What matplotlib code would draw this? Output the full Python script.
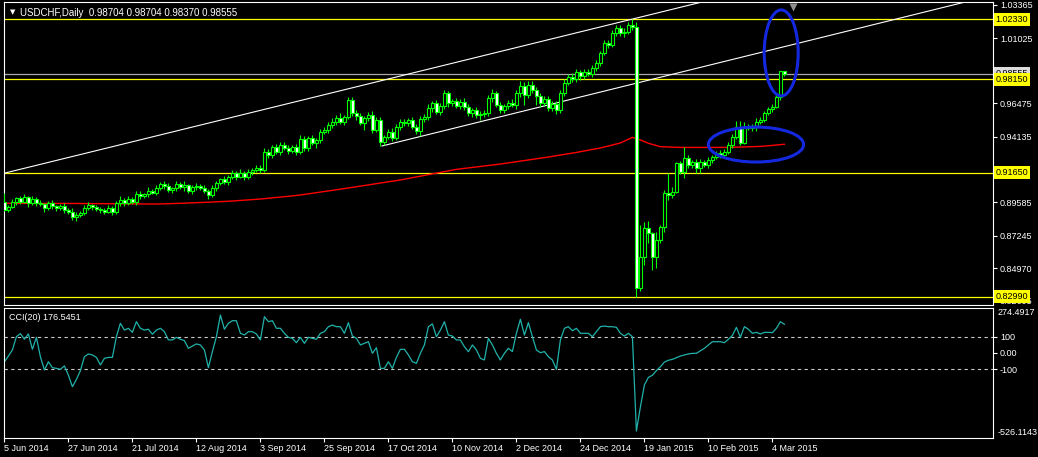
import matplotlib
matplotlib.use("Agg")
import matplotlib.pyplot as plt
import numpy as np
from matplotlib.patches import Ellipse

plt.rcParams['font.family'] = ['Liberation Sans', 'DejaVu Sans']

# USDCHF daily, 5 Jun 2014 .. 9 Mar 2015 (one value per bar)
closes = [
    0.8903, 0.8926, 0.8961, 0.8985, 0.8961, 0.8992, 0.8950, 0.8978, 0.8950, 0.8943,
    0.8915, 0.8950, 0.8931, 0.8915, 0.8931, 0.8903, 0.8892, 0.8853, 0.8869, 0.8885,
    0.8915, 0.8936, 0.8922, 0.8912, 0.8903, 0.8892, 0.8917, 0.8892, 0.8950, 0.8973,
    0.8954, 0.8978, 0.8959, 0.9015, 0.9001, 0.9015, 0.9038, 0.9024, 0.9055, 0.9085,
    0.9071, 0.9043, 0.9055, 0.9085, 0.9062, 0.9078, 0.9038, 0.9062, 0.9071, 0.9055,
    0.9038, 0.9008, 0.9055, 0.9090, 0.9118, 0.9101, 0.9132, 0.9160, 0.9136, 0.9164,
    0.9132, 0.9171, 0.9183, 0.9196, 0.9183, 0.9310, 0.9287, 0.9341, 0.9310, 0.9357,
    0.9334, 0.9317, 0.9345, 0.9310, 0.9397, 0.9334, 0.9404, 0.9373, 0.9392, 0.9450,
    0.9462, 0.9496, 0.9519, 0.9543, 0.9519, 0.9554, 0.9671, 0.9578, 0.9559, 0.9508,
    0.9543, 0.9566, 0.9462, 0.9531, 0.9380, 0.9415, 0.9450, 0.9404, 0.9485, 0.9519,
    0.9508, 0.9531, 0.9485, 0.9457, 0.9536, 0.9554, 0.9613, 0.9652, 0.9589, 0.9629,
    0.9717, 0.9648, 0.9666, 0.9629, 0.9659, 0.9624, 0.9578, 0.9601, 0.9566, 0.9573,
    0.9578, 0.9683, 0.9717, 0.9636, 0.9601, 0.9629, 0.9652, 0.9636, 0.9717, 0.9769,
    0.9706, 0.9776, 0.9741, 0.9699, 0.9648, 0.9676, 0.9613, 0.9643, 0.9601, 0.9717,
    0.9792, 0.9833, 0.9815, 0.9868, 0.9838, 0.9868, 0.9852, 0.9892, 0.9927, 1.0001,
    1.0066, 1.0054, 1.0140, 1.0171, 1.0136, 1.0148, 1.0194, 1.0178, 0.8357, 0.8578,
    0.8776, 0.8741, 0.8578, 0.8694, 0.8787, 0.9020, 0.9008, 0.9031, 0.9229, 0.9171,
    0.9264, 0.9217, 0.9240, 0.9194, 0.9240, 0.9217, 0.9252, 0.9271, 0.9299, 0.9287,
    0.9310, 0.9357, 0.9411, 0.9485, 0.9369, 0.9485, 0.9473, 0.9490, 0.9519, 0.9531,
    0.9578, 0.9606, 0.9624, 0.9694, 0.98704, 0.98555,
]
first_open = 0.8961

# wick lengths above / below the body, in pips
up_wick = [
    59, 15, 20, 12, 18, 25, 10, 22, 15, 20,
    12, 18, 25, 10, 15, 20, 12, 22, 18, 14,
    20, 25, 12, 18, 10, 15, 22, 14, 18, 25,
    12, 20, 15, 22, 18, 10, 25, 14, 20, 15,
    18, 22, 12, 20, 15, 25, 10, 18, 22, 14,
    20, 15, 25, 18, 12, 22, 15, 20, 18, 25,
    12, 20, 15, 22, 18, 25, 20, 15, 22, 23,
    18, 25, 15, 20, 30, 22, 18, 25, 15, 20,
    22, 18, 25, 20, 35, 15, 20, 18, 25, 22,
    15, 20, 25, 18, 22, 15, 20, 25, 18, 22,
    20, 15, 22, 18, 25, 20, 28, 15, 22, 18,
    25, 20, 15, 22, 18, 25, 20, 15, 22, 18,
    20, 25, 30, 18, 22, 15, 20, 25, 22, 35,
    30, 25, 28, 20, 18, 25, 22, 20, 18, 25,
    22, 18, 25, 20, 15, 22, 18, 25, 20, 15,
    22, 25, 18, 20, 25, 22, 20, 39, 37, 221,
    46, 53, 11, 58, 12, 20, 140, 35, 12, 18,
    81, 20, 15, 22, 18, 15, 20, 18, 15, 22,
    18, 20, 25, 42, 42, 35, 17, 14, 23, 20,
    15, 18, 20, 23, 5, 0,
]
dn_wick = [
    10, 15, 12, 20, 18, 10, 25, 15, 20, 12,
    23, 15, 20, 18, 12, 22, 15, 20, 25, 15,
    18, 12, 20, 15, 22, 18, 12, 20, 15, 18,
    20, 15, 12, 18, 22, 15, 20, 12, 18, 15,
    22, 15, 20, 18, 12, 25, 15, 20, 18, 12,
    18, 25, 15, 20, 12, 18, 22, 15, 20, 12,
    18, 15, 20, 12, 22, 15, 18, 20, 15, 22,
    15, 20, 18, 25, 15, 22, 18, 15, 35, 20,
    15, 22, 18, 20, 15, 22, 18, 20, 25, 15,
    47, 18, 20, 15, 30, 22, 18, 20, 15, 22,
    18, 20, 15, 22, 35, 18, 20, 25, 15, 22,
    20, 25, 18, 15, 22, 20, 18, 25, 22, 35,
    18, 20, 25, 15, 22, 18, 20, 15, 25, 22,
    70, 20, 18, 63, 25, 18, 22, 20, 25, 18,
    20, 15, 22, 18, 25, 20, 15, 22, 18, 20,
    18, 22, 15, 20, 18, 25, 15, 20, 58, 20,
    58, 70, 93, 81, 23, 35, 35, 23, 12, 15,
    47, 20, 18, 30, 30, 15, 18, 20, 15, 18,
    20, 15, 18, 12, 12, 5, 12, 16, 35, 15,
    12, 15, 18, 12, 23, 18,
]

cci = [
    -55, -20, 18, 100, 119, 84, 117, 22, 96, -24,
    -106, -55, -92, -96, -102, -81, -138, -210, -165, -110,
    -24, -7, -13, -28, -75, -34, -28, -28, 100, 183,
    141, 152, 127, 193, 152, 141, 146, 115, 141, 152,
    131, 80, 80, 96, 84, 76, 28, 42, 55, 49,
    18, -92, 8, 100, 234, 146, 183, 199, 199, 121,
    111, 131, 131, 117, 80, 224, 193, 199, 152, 152,
    121, 96, 90, 63, 96, 59, 96, 90, 84, 121,
    131, 162, 172, 162, 162, 121, 187, 104, 90, 49,
    59, 69, -3, 32, -96, -96, -55, -96, -28, 22,
    22, -13, -55, -65, -3, 49, 162, 179, 100, 141,
    193, 110, 104, 80, 80, 38, 7, 49, 18, -34,
    -44, 90, 49, -3, -44, -3, 28, 8, 121, 208,
    110, 187, 100, 18, 1, 8, -24, -44, -102, 80,
    152, 162, 137, 152, 121, 121, 121, 100, 131, 162,
    166, 162, 162, 158, 121, 104, 121, 100, -484, -335,
    -199, -152, -139, -110, -86, -57, -46, -40, -30, -20,
    -13, -7, -3, -3, 13, 28, 49, 69, 69, 69,
    63, 84, 108, 158, 96, 162, 146, 121, 127, 117,
    127, 127, 125, 152, 193, 176.5451,
]

# moving average (red), read at a few bars
ma_bars = [0, 17, 38, 44, 52, 57, 64, 71, 74, 86, 99, 113, 124, 136, 143, 149,
           154, 157, 159, 161, 164, 169, 181, 189, 192, 195]
ma_vals = [0.8950, 0.8949, 0.8945, 0.8950, 0.8959, 0.8966, 0.8980, 0.8999, 0.9008,
           0.9057, 0.9113, 0.9187, 0.9224, 0.9273, 0.9305, 0.9336, 0.9371, 0.9410,
           0.9392, 0.9369, 0.9345, 0.9340, 0.9340, 0.9347, 0.9354, 0.9362]

date_labels = ['5 Jun 2014', '27 Jun 2014', '21 Jul 2014', '12 Aug 2014', '3 Sep 2014',
               '25 Sep 2014', '17 Oct 2014', '10 Nov 2014', '2 Dec 2014', '24 Dec 2014',
               '19 Jan 2015', '10 Feb 2015', '4 Mar 2015']

levels = [1.02330, 0.98150, 0.91650, 0.82990]
bid = 0.98555
price_ticks = [1.03365, 1.01025, 0.96475, 0.94135, 0.89585, 0.87245, 0.84970, 0.82695]

# trend lines, anchor points (bar, price)
trend1 = [(0.25, 0.9162), (139.0, 1.0112)]
trend2 = [(94.4, 0.9350), (204.0, 1.0105)]

GREEN = '#00FF00'
W, H = 1038, 457
fig = plt.figure(figsize=(W / 100, H / 100), dpi=100, facecolor='black')
ax = fig.add_axes([4 / W, 1 - 305 / H, 989 / W, 303 / H], facecolor='black')
ax2 = fig.add_axes([4 / W, 1 - 438 / H, 989 / W, 130 / H], facecolor='black')

closes = np.array(closes)
opens = np.r_[first_open, closes[:-1]]
highs = np.maximum(opens, closes) + np.array(up_wick) * 1e-4
lows = np.minimum(opens, closes) - np.array(dn_wick) * 1e-4
x = np.arange(len(closes))
bull = closes >= opens

# levels
for lv in levels:
    ax.axhline(lv, color='#FFFF00', lw=0.9, zorder=2)
ax.axhline(bid, color='#A9A9A9', lw=0.9, zorder=2)

# trend rays
for (x0, p0), (x1, p1) in (trend1, trend2):
    slope = (p1 - p0) / (x1 - x0)
    ax.plot([x0, 300], [p0, p0 + slope * (300 - x0)], color='white', lw=0.8, zorder=2)

ax.plot(ma_bars, ma_vals, color='#FF0000', lw=1.0, zorder=3)

ax.vlines(x, lows, highs, color=GREEN, lw=0.8, zorder=4)
ax.bar(x, closes - opens, bottom=opens, width=0.62,
       color=np.where(bull, 'black', 'white'), edgecolor=GREEN, linewidth=0.8, zorder=5)

# hand drawn ellipses
ax.add_patch(Ellipse((194.2, 0.9999), 8.5, 0.060, fill=False, ec='#1428E0', lw=2.2, zorder=6))
ax.add_patch(Ellipse((187.9, 0.9360), 23.8, 0.0244, fill=False, ec='#1428E0', lw=2.2, zorder=6))

# chart shift marker
ax.plot([197.25], [0.985], marker='v', ms=6, color='#909090', mec='none',
        transform=ax.get_xaxis_transform(), clip_on=False, zorder=6)

xmax = 247.15
for a in (ax, ax2):
    a.set_xlim(-0.1, xmax)
    for s in a.spines.values():
        s.set_color('white')
        s.set_linewidth(0.8)

ax.set_ylim(0.82407, 1.03544)
ax.yaxis.tick_right()
ax.set_yticks(price_ticks)
ax.set_yticklabels([f'{v:.5f}' for v in price_ticks])
ax.tick_params(axis='y', colors='white', length=3, width=0.8, labelsize=6.5, pad=2)
ax.set_xticks([])

ytr = ax.get_yaxis_transform()
for lv in levels:
    ax.text(1.0025, lv, f'{lv:.5f}', transform=ytr, va='center', ha='left', fontsize=6.5,
            color='black', zorder=8, clip_on=False,
            bbox=dict(boxstyle='square,pad=0.2', fc='#FFFF00', ec='none'))
ax.text(1.0025, bid, f'{bid:.5f}', transform=ytr, va='center', ha='left', fontsize=6.5,
        color='black', zorder=7, clip_on=False,
        bbox=dict(boxstyle='square,pad=0.2', fc='#DCDCDC', ec='none'))

ax.text(0.006, 0.965, '\u25BC', transform=ax.transAxes, color='white', fontsize=5,
        va='center', ha='left', family=['DejaVu Sans'])
ax.text(0.0165, 0.965, 'USDCHF,Daily  0.98704 0.98704 0.98370 0.98555', transform=ax.transAxes,
        color='white', fontsize=7, va='center', ha='left')

# CCI panel
ax2.axhline(100, color='#C8C8C8', lw=0.8, ls=(0, (3, 3)))
ax2.axhline(-100, color='#C8C8C8', lw=0.8, ls=(0, (3, 3)))
ax2.plot(x, cci, color='#20B2AA', lw=0.9)
ax2.set_ylim(-527.2, 277.7)
ax2.yaxis.tick_right()
ax2.set_yticks([100, 0, -100])
ax2.set_yticklabels(['100', '0.00', '-100'])
ax2.tick_params(axis='y', colors='white', length=3, width=0.8, labelsize=6.5, pad=2)
ax2.text(1.005, 0.965, '274.4917', transform=ax2.transAxes, color='white', fontsize=6.5,
         va='center', ha='left')
ax2.text(1.005, 0.04, '-526.1143', transform=ax2.transAxes, color='white', fontsize=6.5,
         va='center', ha='left')
ax2.text(0.005, 0.93, 'CCI(20) 176.5451', transform=ax2.transAxes, color='white',
         fontsize=6.5, va='center', ha='left')

ax2.set_xticks(np.arange(len(date_labels)) * 16)
ax2.set_xticklabels(date_labels, ha='left')
ax2.tick_params(axis='x', colors='white', length=3, width=0.8, labelsize=6.5, pad=1.5)

fig.savefig('out.png', dpi=100, facecolor='black')
